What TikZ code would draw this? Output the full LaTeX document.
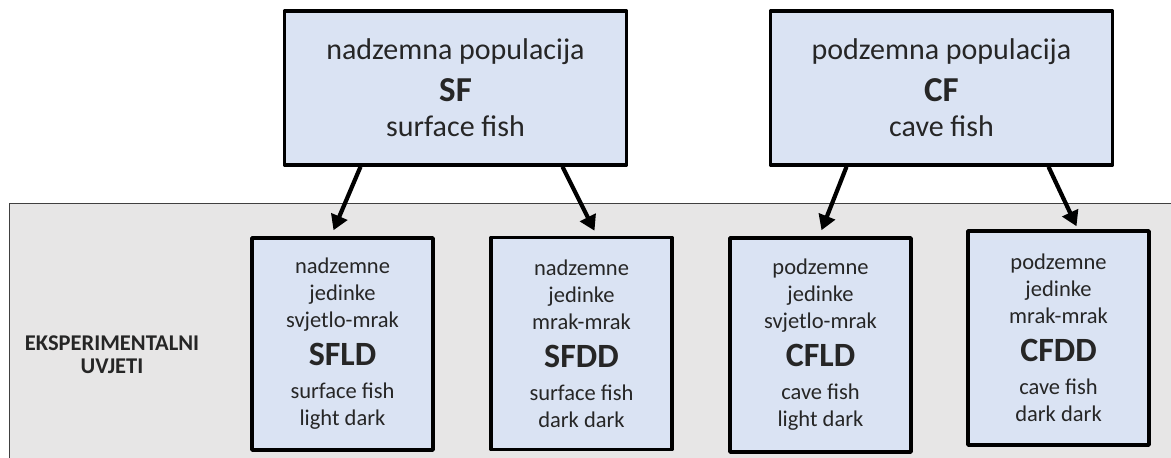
\documentclass[tikz,border=0pt]{standalone}
\usepackage{fontspec}
\setmainfont{Carlito}
\usetikzlibrary{arrows.meta}
\definecolor{boxblue}{HTML}{DAE3F3}
\definecolor{panelgray}{HTML}{E7E6E6}
\definecolor{txtgray}{HTML}{262626}

\begin{document}
\begin{tikzpicture}[x=1pt, y=1pt, line join=round,
    popbox/.style={draw, line width=3.5pt, fill=boxblue, text=txtgray, align=center,
        inner sep=0pt, minimum width=342pt, minimum height=154pt, font=\fontsize{30}{35}\selectfont},
    groupbox/.style={draw, line width=3.5pt, fill=boxblue, text=txtgray, align=center,
        inner sep=0pt, minimum width=181pt, minimum height=212pt, font=\fontsize{22.5}{27}\selectfont},
    arr/.style={line width=4.2pt, -{Triangle[length=15pt,width=17pt]}}]
    \useasboundingbox (0,0) rectangle (1171,458);
    % grey band for the experimental conditions
    \fill[panelgray] (9,0) rectangle (1171,254);
    \draw[line width=1pt, black!75] (9,0) -- (9,254) -- (1171,254);
    \node[font=\bfseries\fontsize{22.5}{23}\selectfont, text=txtgray, align=center] (uvjeti) at (112,103)
        {EKSPERIMENTALNI\\UVJETI};

    % populations
    \node[popbox] (sf) at (455.5,370)
        {nadzemna populacija\\[7pt] {\bfseries\fontsize{35}{35}\selectfont SF}\\ surface fish};
    \node[popbox] (cf) at (941.5,370)
        {podzemna populacija\\[7pt] {\bfseries\fontsize{35}{35}\selectfont CF}\\ cave fish};

    % groups
    \node[groupbox] (sfld) at (342.5,114)
        {nadzemne\\ jedinke\\ svjetlo-mrak\\[11pt] {\bfseries\fontsize{34}{34}\selectfont SFLD}\\[6pt] surface fish\\ light dark};
    \node[groupbox] (sfdd) at (581.5,114.5)
        {nadzemne\\ jedinke\\ mrak-mrak\\[11pt] {\bfseries\fontsize{34}{34}\selectfont SFDD}\\[6pt] surface fish\\ dark dark};
    \node[groupbox, minimum height=214pt] (cfld) at (820.5,113)
        {podzemne\\ jedinke\\ svjetlo-mrak\\[11pt] {\bfseries\fontsize{34}{34}\selectfont CFLD}\\[6pt] cave fish\\ light dark};
    \node[groupbox, minimum height=214pt] (cfdd) at (1058.5,120)
        {podzemne\\ jedinke\\ mrak-mrak\\[11pt] {\bfseries\fontsize{34}{34}\selectfont CFDD}\\[6pt] cave fish\\ dark dark};

    \draw[arr] ([xshift=-95pt]sf.south) -- ([xshift=-9pt,yshift=6pt]sfld.north);
    \draw[arr] ([xshift=107pt]sf.south) -- ([xshift=13pt,yshift=5pt]sfdd.north);
    \draw[arr] ([xshift=-95pt]cf.south) -- ([xshift=1pt,yshift=6pt]cfld.north);
    \draw[arr] ([xshift=107pt]cf.south) -- ([xshift=18pt,yshift=3pt]cfdd.north);
\end{tikzpicture}
\end{document}
